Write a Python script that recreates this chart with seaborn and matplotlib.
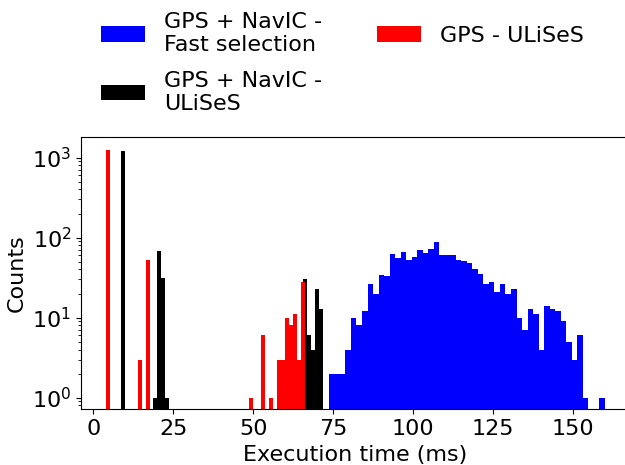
import numpy as np
import pandas as pd
import matplotlib
matplotlib.use("Agg")
import matplotlib.pyplot as plt
import seaborn as sns

# ---- data ----
labels = ["GPS + NavIC -\nFast selection", "GPS + NavIC -\nULiSeS", "GPS - ULiSeS"]
colors = ["blue", "black", "red"]

# histogram ranges (ms) - each series has 50 bins
blue_range = (73.66, 159.9)
black_range = (8.66, 71.8)
red_range = (4.0, 66.2)

blue_counts = [2, 2, 2, 4, 10, 8, 12, 26, 20, 34,
               33, 62, 56, 66, 52, 57, 70, 64, 72, 88,
               61, 60, 61, 53, 51, 48, 41, 35, 26, 28,
               21, 26, 20, 23, 10, 7, 13, 11, 4, 14,
               13, 12, 9, 5, 3, 6, 1, 0, 0, 1]
black_counts = [1210, 0, 0, 0, 0, 0, 0, 0, 1, 68,
                31, 1, 0, 0, 0, 0, 0, 0, 0, 0,
                0, 0, 0, 0, 0, 0, 0, 0, 0, 0,
                0, 0, 0, 0, 0, 0, 0, 0, 0, 0,
                0, 0, 0, 0, 0, 30, 6, 4, 23, 13]
red_counts = [1250, 0, 0, 0, 0, 0, 0, 0, 3, 0,
              53, 0, 0, 0, 0, 0, 0, 0, 0, 0,
              0, 0, 0, 0, 0, 0, 0, 0, 0, 0,
              0, 0, 0, 0, 0, 0, 1, 0, 0, 6,
              0, 1, 0, 3, 3, 10, 8, 11, 3, 28]

xticks = [0, 25, 50, 75, 100, 125, 150]

plt.rcParams["font.size"] = 16
plt.rcParams["font.family"] = ["DejaVu Sans"]

fig = plt.figure(figsize=(6.25, 4.65), dpi=100)
ax = fig.add_axes([81 / 625, 55.7 / 465, 548.8 / 625, 272.1 / 465])

series = [(blue_range, blue_counts), (black_range, black_counts), (red_range, red_counts)]
for (rng, counts), col, lab in zip(series, colors, labels):
    edges = np.linspace(rng[0], rng[1], len(counts) + 1)
    df = pd.DataFrame({"t": (edges[:-1] + edges[1:]) / 2,
                       "w": np.asarray(counts, dtype=float)})
    sns.histplot(data=df, x="t", weights="w", bins=list(edges), color=col, alpha=1,
                 linewidth=0, element="bars", fill=True, label=lab, ax=ax)

ax.set_yscale("log")
ax.set_ylim(0.716, 1800)
ax.set_xlim(-3.8, 167.7)
ax.set_xticks(xticks)
ax.set_xlabel("Execution time (ms)")
ax.set_ylabel("Counts")
ax.spines["right"].set_visible(False)

handles, labs = ax.get_legend_handles_labels()
fig.legend(handles, labs, ncol=2, loc="upper left", frameon=False, fontsize=16,
           bbox_to_anchor=(81 / 625, 1 + 8 / 465), bbox_transform=fig.transFigure,
           handlelength=2.0, handleheight=0.7, handletextpad=0.85,
           labelspacing=0.7, columnspacing=2.45)

fig.savefig("out.png", dpi=100)
